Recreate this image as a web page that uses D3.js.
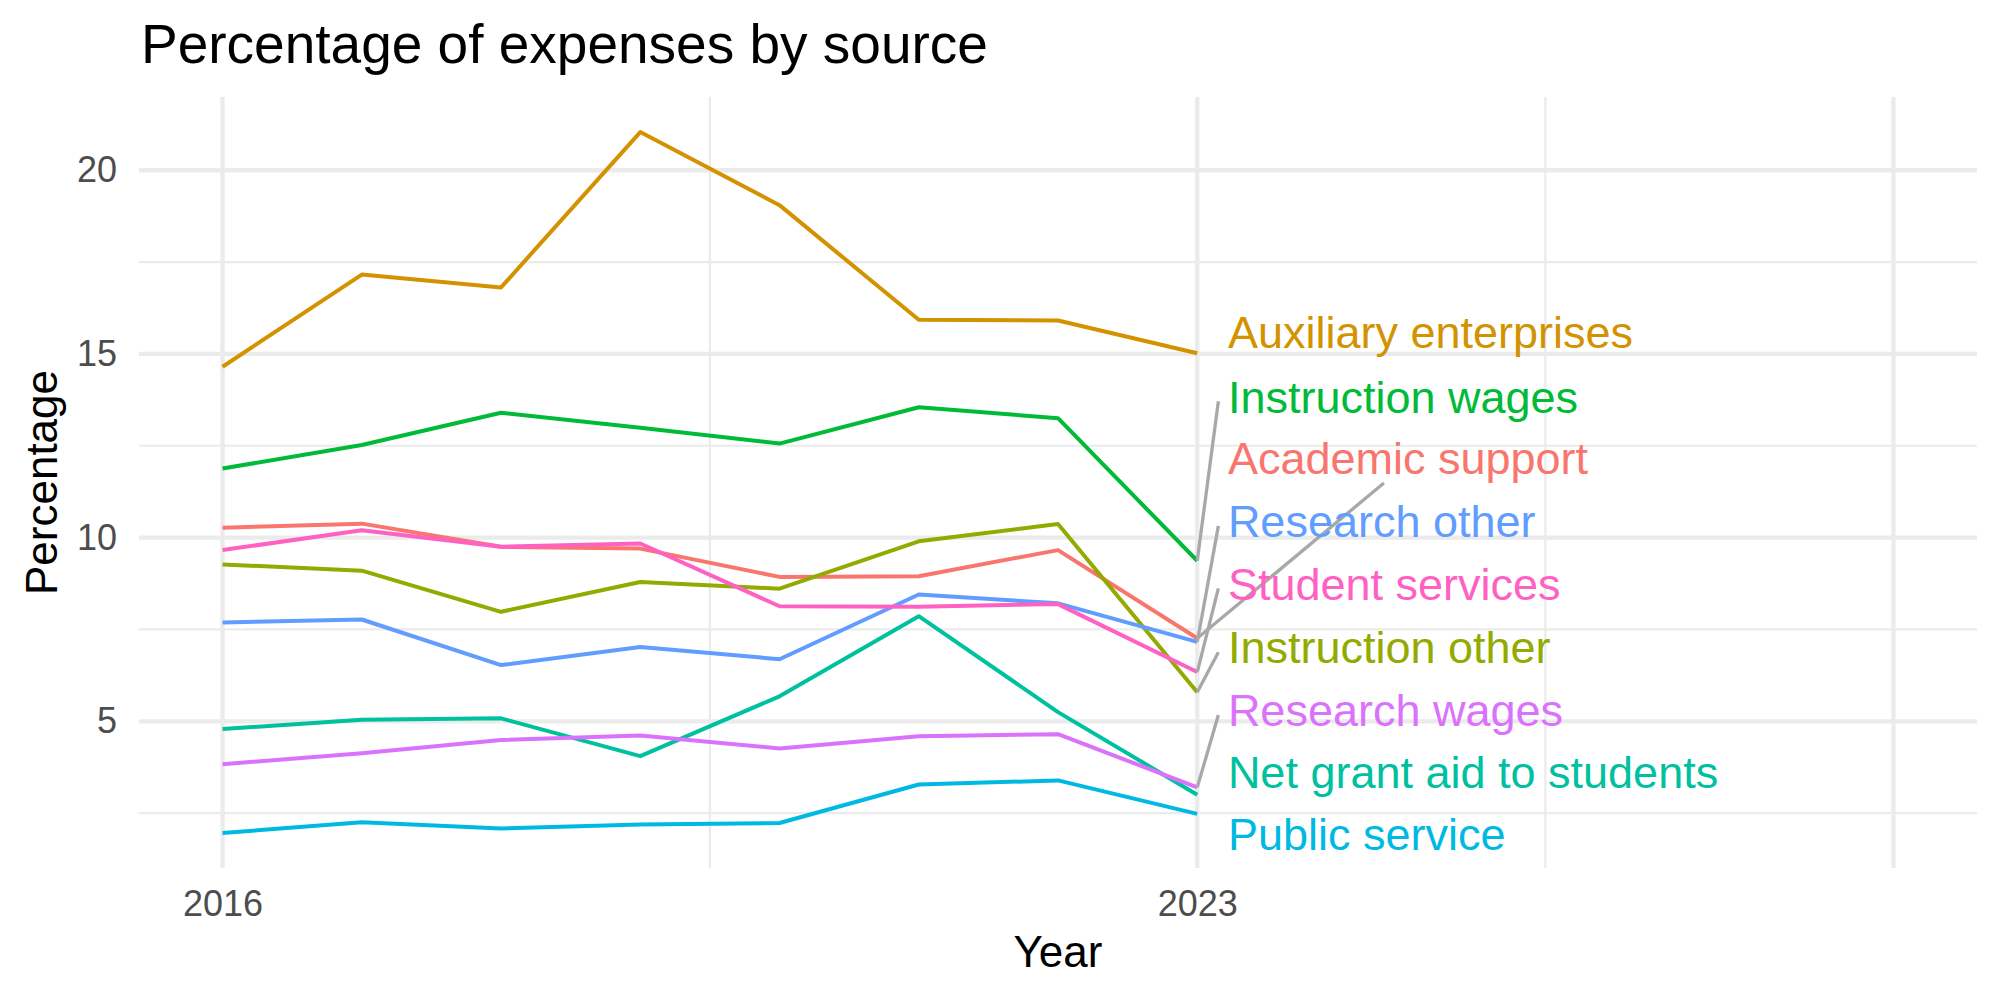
<!DOCTYPE html>
<html lang="en">
<head>
<meta charset="UTF-8">
<title>Percentage of expenses by source</title>
<script src="https://cdnjs.cloudflare.com/ajax/libs/d3/7.8.5/d3.min.js"></script>
<style>
  body { margin: 0; background: #ffffff; }
  svg { display: block; font-family: "Liberation Sans", Arial, Helvetica, sans-serif; }
  .grid-major { stroke: #ebebeb; stroke-width: 4.3; }
  .grid-minor { stroke: #ebebeb; stroke-width: 2.2; }
  .axis text { font-size: 36px; fill: #4d4d4d; }
  .axis path, .axis line { display: none; }
  .series { fill: none; stroke-width: 4; stroke-linejoin: round; }
  .connector { stroke: #a8a8a8; stroke-width: 3.3; }
  .label { font-size: 45px; }
  .axis-title { font-size: 44px; fill: #000; }
  .title { font-size: 55px; fill: #000; }
</style>
</head>
<body>
<div id="chart"></div>
<script>
// ---- data ----
const years = [2016, 2017, 2018, 2019, 2020, 2021, 2022, 2023];

const categories = [
  "Academic support", "Auxiliary enterprises", "Instruction other",
  "Instruction wages", "Net grant aid to students", "Public service",
  "Research other", "Research wages", "Student services"
];

const academicSupport      = [10.27, 10.38, 9.75, 9.70, 8.93, 8.95, 9.66, 7.26];
const auxiliaryEnterprises = [14.65, 17.16, 16.81, 21.04, 19.05, 15.93, 15.91, 15.02];
const instructionOther     = [9.27, 9.10, 7.98, 8.79, 8.61, 9.90, 10.37, 5.79];
const instructionWages     = [11.88, 12.52, 13.40, 12.99, 12.56, 13.55, 13.25, 9.37];
const netGrantAid          = [4.79, 5.04, 5.08, 4.05, 5.68, 7.86, 5.25, 3.00];
const publicService        = [1.96, 2.25, 2.08, 2.19, 2.23, 3.28, 3.39, 2.48];
const researchOther        = [7.69, 7.77, 6.53, 7.02, 6.69, 8.45, 8.21, 7.16];
const researchWages        = [3.83, 4.13, 4.49, 4.61, 4.26, 4.59, 4.65, 3.20];
const studentServices      = [9.66, 10.20, 9.75, 9.84, 8.13, 8.12, 8.19, 6.34];

const seriesValues = [
  academicSupport, auxiliaryEnterprises, instructionOther, instructionWages,
  netGrantAid, publicService, researchOther, researchWages, studentServices
];

// ggplot default hue palette, same order as categories
const colours = ["#F8766D", "#D39200", "#93AA00", "#00BA38", "#00C19F",
                 "#00B9E3", "#619CFF", "#DB72FB", "#FF61C3"];

// where the repelled labels ended up (percentage units, label centres)
const labelY = [12.03, 15.46, 6.88, 13.71, 3.50, 1.80, 10.32, 5.17, 8.62];
const labelX = 2023.22;
const centreConnect = ["Academic support"];

const xLimits = [2016, 2028];
const xBreaks = [2016, 2023, 2028];
const xTickLabels = ["2016", "2023", ""];
const yBreaks = [5, 10, 15, 20];

// ---- layout ----
const width = 2000, height = 1000;
const panel = {left: 139, right: 1977, top: 97, bottom: 868};

const expand = ([a, b]) => [a - (b - a) * 0.05, b + (b - a) * 0.05];
const minorOf = (br, dom) => {
  const out = [];
  for (let i = 0; i < br.length - 1; i++) out.push((br[i] + br[i + 1]) / 2);
  const step0 = br[1] - br[0], stepN = br[br.length - 1] - br[br.length - 2];
  out.push(br[0] - step0 / 2, br[br.length - 1] + stepN / 2);
  return out.filter(v => v >= dom[0] && v <= dom[1]);
};

const x = d3.scaleLinear().domain(expand(xLimits)).range([panel.left, panel.right]);
const y = d3.scaleLinear()
  .domain(expand(d3.extent(seriesValues.flat())))
  .range([panel.bottom, panel.top]);

const svg = d3.select("#chart").append("svg")
  .attr("width", width)
  .attr("height", height);

// gridlines
const grid = svg.append("g");
minorOf(yBreaks, y.domain()).forEach(v => {
  grid.append("line").attr("class", "grid-minor")
    .attr("x1", panel.left).attr("x2", panel.right)
    .attr("y1", y(v)).attr("y2", y(v));
});
minorOf(xBreaks, x.domain()).forEach(v => {
  grid.append("line").attr("class", "grid-minor")
    .attr("x1", x(v)).attr("x2", x(v))
    .attr("y1", panel.top).attr("y2", panel.bottom);
});
yBreaks.forEach(v => {
  grid.append("line").attr("class", "grid-major")
    .attr("x1", panel.left).attr("x2", panel.right)
    .attr("y1", y(v)).attr("y2", y(v));
});
xBreaks.forEach(v => {
  grid.append("line").attr("class", "grid-major")
    .attr("x1", x(v)).attr("x2", x(v))
    .attr("y1", panel.top).attr("y2", panel.bottom);
});

// axes (text only, like theme_minimal)
svg.append("g").attr("class", "axis")
  .attr("transform", `translate(0, ${panel.bottom})`)
  .call(d3.axisBottom(x).tickValues(xBreaks)
    .tickFormat((d, i) => xTickLabels[i]).tickSize(0).tickPadding(22));

svg.append("g").attr("class", "axis")
  .attr("transform", `translate(${panel.left}, 0)`)
  .call(d3.axisLeft(y).tickValues(yBreaks).tickSize(0).tickPadding(22));

svg.selectAll(".axis text").attr("font-family", null);

// lines
const line = d3.line().x((d, i) => x(years[i])).y(d => y(d));
svg.append("g").selectAll("path")
  .data(seriesValues)
  .enter().append("path")
  .attr("class", "series")
  .attr("stroke", (d, i) => colours[i])
  .attr("d", line);

// labels + connectors
const last = years[years.length - 1];
const segLayer = svg.append("g");
const labLayer = svg.append("g");
categories.forEach((name, i) => {
  const t = labLayer.append("text")
    .attr("class", "label")
    .attr("x", x(labelX))
    .attr("y", y(labelY[i]))
    .attr("dy", "0.25em")
    .attr("fill", colours[i])
    .text(name);

  const w = t.node().getComputedTextLength();
  const px = x(last), py = y(seriesValues[i][seriesValues[i].length - 1]);
  const cy = y(labelY[i]);
  const box = {x1: x(labelX) - 9.5, x2: x(labelX) + w + 9.5, y1: cy - 20, y2: cy + 20};
  if (Math.abs(py - cy) <= 30) return;

  let ex = box.x1, ey = cy;
  if (centreConnect.includes(name)) {
    const cx = (box.x1 + box.x2) / 2;
    const edge = py > cy ? box.y2 : box.y1;
    const k = (py - edge) / (py - cy);
    ex = px + k * (cx - px);
    ey = edge;
  }
  segLayer.append("line").attr("class", "connector")
    .attr("x1", px).attr("y1", py)
    .attr("x2", ex).attr("y2", ey);
});

// titles
svg.append("text").attr("class", "title")
  .attr("x", 141).attr("y", 63)
  .text("Percentage of expenses by source");

svg.append("text").attr("class", "axis-title")
  .attr("x", (panel.left + panel.right) / 2).attr("y", 967)
  .attr("text-anchor", "middle")
  .text("Year");

svg.append("text").attr("class", "axis-title")
  .attr("transform", `translate(57, ${(panel.top + panel.bottom) / 2}) rotate(-90)`)
  .attr("text-anchor", "middle")
  .text("Percentage");
</script>
</body>
</html>
